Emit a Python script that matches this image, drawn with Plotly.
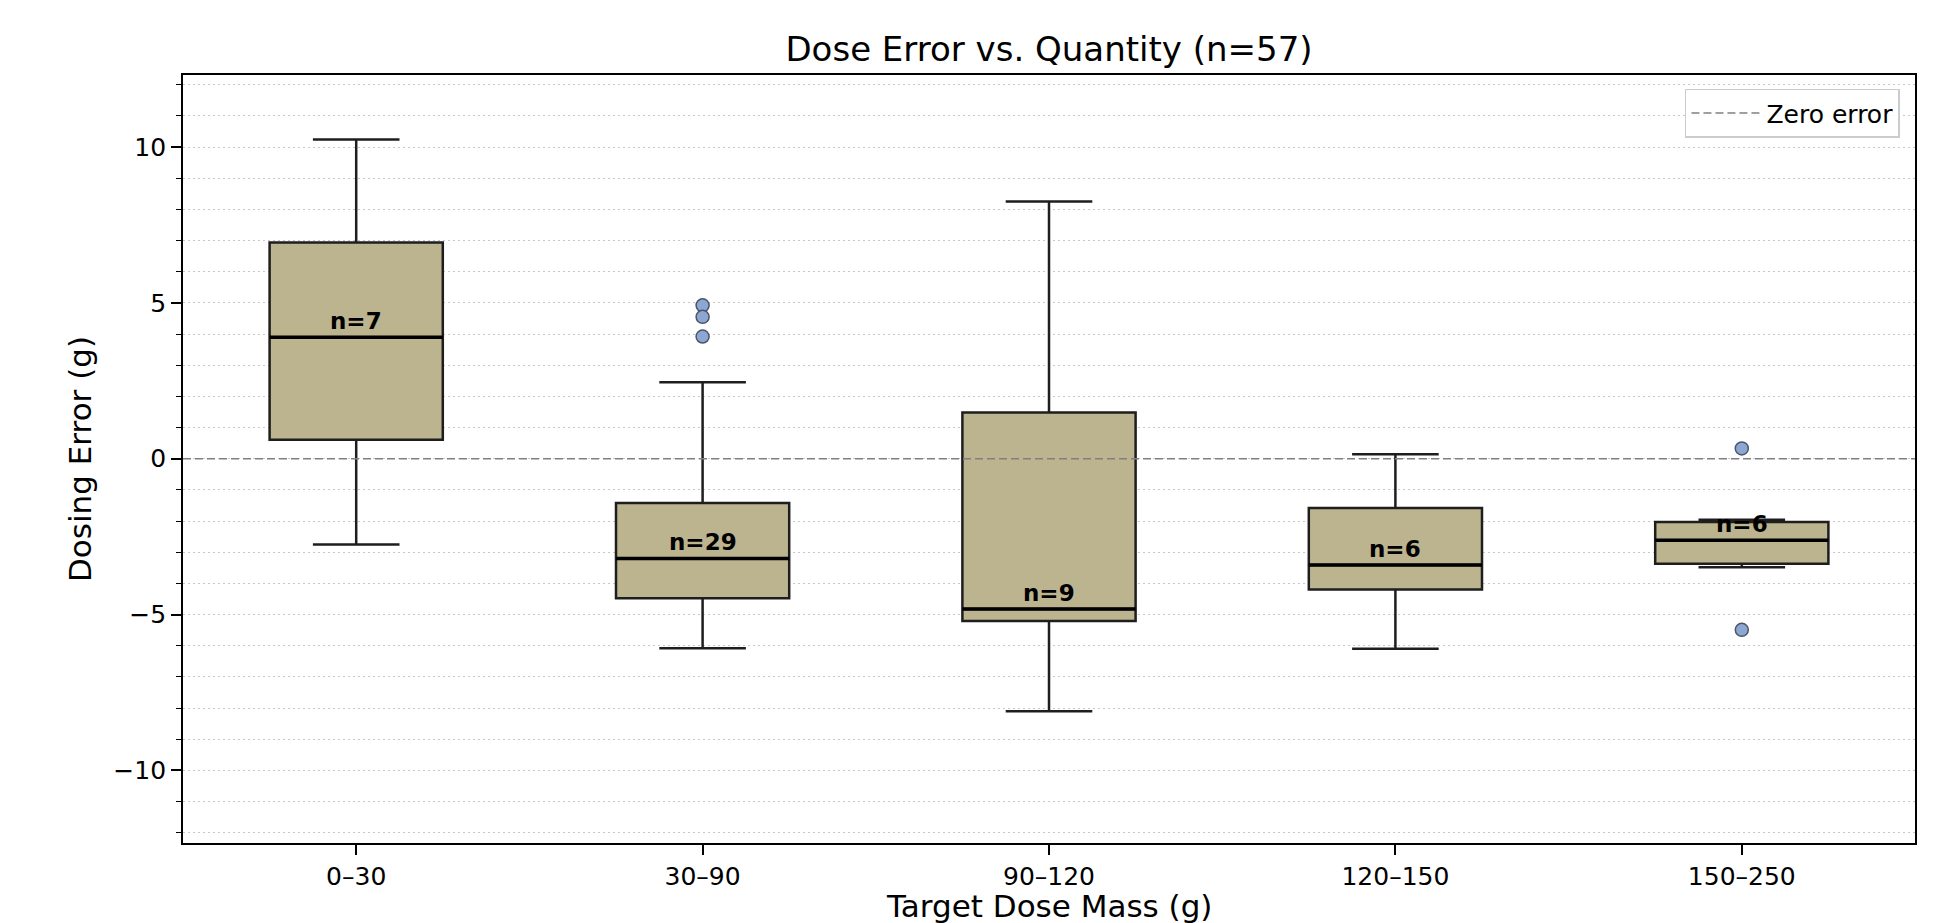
import plotly.graph_objects as go

# ---- data ----
categories = ["0–30", "30–90", "90–120", "120–150", "150–250"]
positions = [0, 1, 2, 3, 4]
q1_vals = [0.61, -4.48, -5.21, -4.20, -3.37]
median_vals = [3.90, -3.20, -4.82, -3.41, -2.62]
q3_vals = [6.94, -1.42, 1.48, -1.58, -2.03]
lower_whisker = [-2.75, -6.08, -8.10, -6.10, -3.48]
upper_whisker = [10.24, 2.45, 8.25, 0.14, -1.96]
counts = [7, 29, 9, 6, 6]
outlier_pos = [1, 1, 1, 4, 4]
outlier_vals = [4.92, 4.55, 3.92, 0.33, -5.49]
total_n = 57

y_tick_vals = [-10, -5, 0, 5, 10]
y_tick_text = ["−10", "−5", "0", "5", "10"]

FONT = "DejaVu Sans"
BOX_WIDTH = 0.5
FIG_W, FIG_H = 1922, 915   # page body adds an 8px margin

fig = go.Figure()

fig.add_trace(go.Box(
    x=positions,
    q1=q1_vals, median=median_vals, q3=q3_vals,
    lowerfence=lower_whisker, upperfence=upper_whisker,
    width=BOX_WIDTH, whiskerwidth=0.5,
    fillcolor="#bcb38f",
    line=dict(color="#1e1e1e", width=2.5),
    boxpoints=False, showlegend=False, hoverinfo="skip",
))

# thicker median lines
mx, my = [], []
for p, m in zip(positions, median_vals):
    mx += [p - BOX_WIDTH / 2, p + BOX_WIDTH / 2, None]
    my += [m, m, None]
fig.add_trace(go.Scatter(x=mx, y=my, mode="lines",
                         line=dict(color="black", width=3.5),
                         showlegend=False, hoverinfo="skip"))

# outliers
fig.add_trace(go.Scatter(
    x=outlier_pos, y=outlier_vals, mode="markers",
    marker=dict(size=13, color="#8da7d5", line=dict(color="#4b5563", width=1.5)),
    showlegend=False, hoverinfo="skip",
))

# zero error reference line
fig.add_trace(go.Scatter(
    x=[-0.5, 4.5], y=[0, 0], mode="lines", name="Zero error",
    line=dict(color="#808080", width=1.5, dash="8px,4px"),
    hoverinfo="skip",
))

for p, m, n in zip(positions, median_vals, counts):
    fig.add_annotation(x=p, y=m, text=f"<b>n={n}</b>", showarrow=False,
                       yanchor="bottom", yshift=1,
                       font=dict(family=FONT, size=23, color="black"))

# axis titles
fig.add_annotation(text="Target Dose Mass (g)", xref="paper", yref="paper",
                   x=0.5, y=0, xanchor="center", yanchor="middle", yshift=-63,
                   showarrow=False, font=dict(family=FONT, size=31, color="black"))
fig.add_annotation(text="Dosing Error (g)", xref="paper", yref="paper",
                   x=0, y=0.5, xanchor="center", yanchor="middle", xshift=-103,
                   textangle=-90, showarrow=False,
                   font=dict(family=FONT, size=31, color="black"))

fig.update_layout(
    template="none",
    width=FIG_W, height=FIG_H,
    margin=dict(l=175, r=15, t=67, b=80, autoexpand=False),
    paper_bgcolor="white", plot_bgcolor="white",
    font=dict(family=FONT, size=25, color="black"),
    title=dict(text=f"Dose Error vs. Quantity (n={total_n})",
               x=0.5, xref="paper", xanchor="center",
               y=1 - 41 / FIG_H, yref="container", yanchor="middle",
               font=dict(family=FONT, size=34, color="black")),
    legend=dict(x=0.9913, xanchor="right", y=0.982, yanchor="top",
                bgcolor="rgba(255,255,255,0.85)", bordercolor="#cccccc",
                borderwidth=1.5, itemwidth=70,
                font=dict(family=FONT, size=25)),
    showlegend=True,
)

fig.update_xaxes(
    automargin=False,
    range=[-0.5, 4.5], tickvals=positions, ticktext=categories,
    showgrid=False, zeroline=False,
    showline=True, linecolor="black", linewidth=1.8, mirror=True,
    ticks="outside", ticklen=10, tickwidth=1.5, tickcolor="black",
)

fig.update_yaxes(
    automargin=False,
    range=[-12.33, 12.31], tickvals=y_tick_vals, ticktext=y_tick_text,
    showgrid=True, gridcolor="#c8c8c8", gridwidth=1, griddash="1.5px,3.5px",
    zeroline=False,
    showline=True, linecolor="black", linewidth=1.8, mirror=True,
    ticks="outside", ticklen=10, tickwidth=1.5, tickcolor="black",
    minor=dict(dtick=1, tick0=0, ticks="outside", ticklen=5, tickwidth=1.2,
               tickcolor="black", showgrid=True, gridcolor="#c8c8c8",
               gridwidth=1, griddash="1.5px,3.5px"),
)

fig.write_html("out.html")
